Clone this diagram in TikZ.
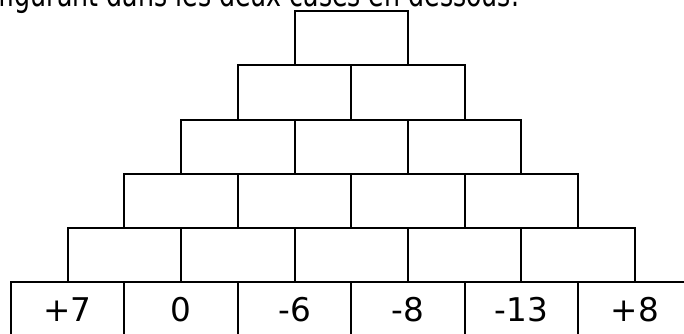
\documentclass[tikz,border=0pt]{standalone}
\usepackage{fontspec}
\setmainfont{DejaVu Sans}
\begin{document}
\begin{tikzpicture}[x=0.75pt,y=-0.75pt,
  cell/.style={draw=black,line width=1.5pt,inner sep=0pt,outer sep=0pt,
    minimum width=85.05pt,minimum height=40.7pt,
    font=\fontsize{24.5pt}{28pt}\selectfont},
  toptext/.style={anchor=base west,inner sep=0pt,outer sep=0pt}]
\useasboundingbox (0,0) rectangle (684,333);
\clip (0,0) rectangle (684,333);
\node[toptext] (intro) at (-1,6.5) {\scalebox{1}[1.35]{\resizebox{390pt}{!}{figurant dans les deux cases en dessous.}}};
\foreach \r/\n in {1/1,2/2,3/3,4/4,5/5}{
  \pgfmathsetmacro{\yc}{11+(\r-1)*54.26+27.13}
  \pgfmathsetmacro{\xl}{11+(6-\r)*56.7}
  \foreach \c in {1,...,\n}{
    \node[cell] (r\r c\c) at ({\xl+(\c-1)*113.4+56.7},\yc) {};
  }
}
\node[cell] (r6c1) at (67.7,309.4) {+7};
\node[cell] (r6c2) at (181.1,309.4) {0};
\node[cell] (r6c3) at (294.5,309.4) {-6};
\node[cell] (r6c4) at (407.9,309.4) {-8};
\node[cell] (r6c5) at (521.3,309.4) {-13};
\node[cell] (r6c6) at (634.7,309.4) {+8};
\end{tikzpicture}
\end{document}
